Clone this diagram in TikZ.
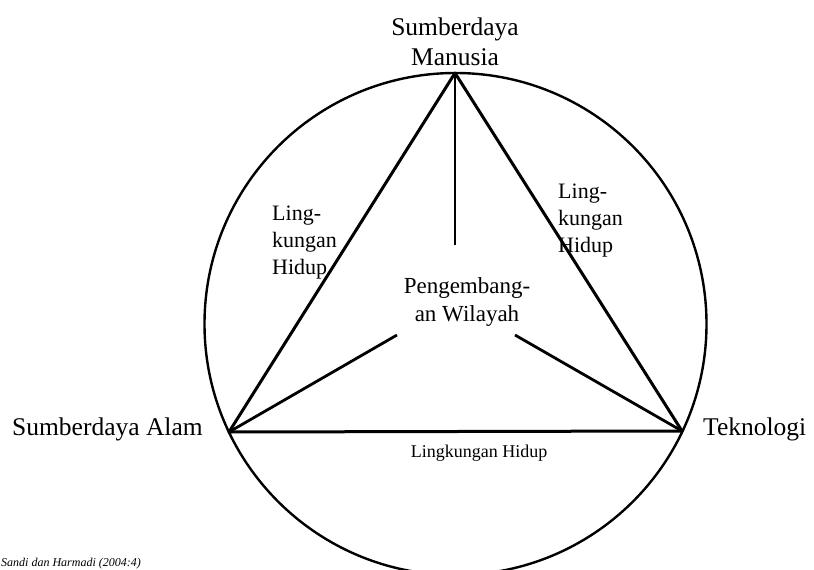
\documentclass[tikz,border=0pt]{standalone}
\usepackage{fontspec}
\setmainfont{Liberation Serif}
\begin{document}
\begin{tikzpicture}[x=1pt,y=-1pt,
  tri/.style={line width=3pt,line cap=round,line join=round},
  circ/.style={line width=2.4pt},
  spoke/.style={line width=2.8pt},
  vlabel/.style={inner sep=0pt,font=\fontsize{25.5}{30}\selectfont},
  slabel/.style={inner sep=0pt,align=left,font=\fontsize{22}{27}\selectfont},
  clabel/.style={inner sep=0pt,align=center,font=\fontsize{23}{28}\selectfont}]
\clip (0,0) rectangle (814,570);
\fill[white] (0,0) rectangle (814,570);
% vertices
\coordinate (T) at (455,73);
\coordinate (L) at (229,432);
\coordinate (R) at (682,431);
\coordinate (O) at (455.5,324);
% spoke ends
\coordinate (sT) at (455,245);
\coordinate (sL) at (397,335);
\coordinate (sR) at (515,335);
% circle
\draw[circ] (O) circle[radius=251];
% triangle
\draw[tri] (T) -- (L) -- (R) -- cycle;
% spokes
\draw[spoke] (T) -- (sT);
\draw[spoke] (L) -- (sL);
\draw[spoke] (R) -- (sR);
% labels
\node[vlabel,align=center] (sdm) at (455,41.5) {Sumberdaya\\Manusia};
\node[vlabel,anchor=base west] (sda) at (12,435) {Sumberdaya Alam};
\node[vlabel,anchor=base west] (tek) at (703,435) {Teknologi};
\node[slabel,anchor=west] (lhL) at (272,243) {Ling-\\kungan\\Hidup};
\node[slabel,anchor=west] (lhR) at (558,220.5) {Ling-\\kungan\\Hidup};
\node[clabel] (pw) at (467,301.7) {Pengembang-\\an Wilayah};
\node[inner sep=0pt,anchor=base,font=\fontsize{18}{22}\selectfont] (lhB) at (479,457) {Lingkungan Hidup};
\node[inner sep=0pt,anchor=base west,font=\fontsize{12}{14}\selectfont\itshape] (src) at (1,566) {Sandi dan Harmadi (2004:4)};
\end{tikzpicture}
\end{document}
